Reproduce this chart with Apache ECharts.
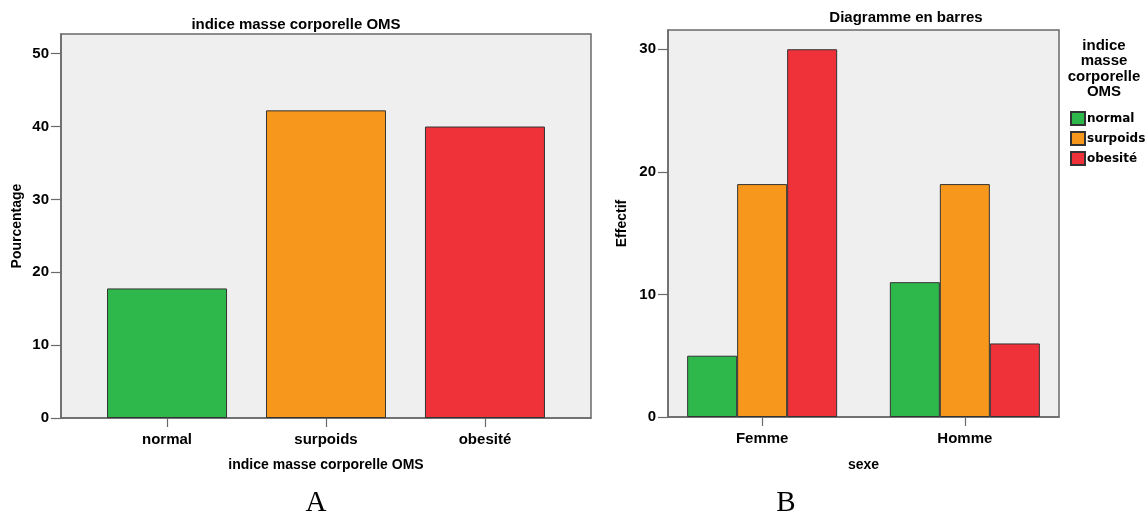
<!DOCTYPE html>
<html>
<head>
<meta charset="utf-8">
<script src="https://cdn.jsdelivr.net/npm/echarts@6/dist/echarts.min.js"></script>
<style>
html,body{margin:0;padding:0;background:#fff;}
#chart{width:1148px;height:516px;}
</style>
</head>
<body>
<div id="chart"></div>
<script>
// ---- data ----
const imcCategories = ['normal', 'surpoids', 'obesité'];
const imcPercent = [17.78, 42.22, 40.0];
const sexCategories = ['Femme', 'Homme'];
const countNormal = [5, 11];
const countSurpoids = [19, 19];
const countObesite = [30, 6];
const leftTicks = [0, 10, 20, 30, 40, 50];
const rightTicks = [0, 10, 20, 30];

const colors = ['#2eb84b', '#f7981d', '#ef323a'];
const FONT = 'Liberation Sans, Arial, sans-serif';
const axisColor = '#6a6a6a';

const chart = echarts.init(document.getElementById('chart'), null, {renderer: 'canvas'});

function yAxisCfg(gridIndex, max, ticks, name, nameGap) {
  return {
    type: 'value', gridIndex, min: 0, max,
    name, nameLocation: 'middle', nameGap,
    nameTextStyle: {fontFamily: FONT, fontWeight: 'bold', fontSize: 14, color: '#000'},
    axisLine: {show: true, onZero: false, lineStyle: {color: axisColor, width: 1.5}},
    axisTick: {show: true, length: 10, customValues: ticks, lineStyle: {color: axisColor, width: 1.2}},
    axisLabel: {customValues: ticks, margin: 12, fontFamily: FONT, fontWeight: 'bold', fontSize: 15, color: '#000'},
    splitLine: {show: false}
  };
}
function xAxisCfg(gridIndex, min, max, cats, name, nameGap) {
  const idx = cats.map((c, i) => i);
  return {
    type: 'value', gridIndex, min, max,
    name, nameLocation: 'middle', nameGap,
    nameTextStyle: {fontFamily: FONT, fontWeight: 'bold', fontSize: 14, color: '#000'},
    axisLine: {show: true, onZero: false, lineStyle: {color: axisColor, width: 1.5}},
    axisTick: {show: true, length: 9, customValues: idx, lineStyle: {color: axisColor, width: 1.2}},
    axisLabel: {customValues: idx, margin: 14, fontFamily: FONT, fontWeight: 'bold', fontSize: 15, color: '#000',
      formatter: v => cats[Math.round(v)]},
    splitLine: {show: false}
  };
}

const barBorder = {borderColor: '#333', borderWidth: 1};
const rightSeriesData = [countNormal, countSurpoids, countObesite];

const option = {
  animation: false,
  backgroundColor: '#fff',
  title: [
    {text: 'indice masse corporelle OMS', left: 296, top: 17, textAlign: 'center', padding: 0,
     textStyle: {fontFamily: FONT, fontWeight: 'bold', fontSize: 15, color: '#000'}},
    {text: 'Diagramme en barres', left: 906, top: 10, textAlign: 'center', padding: 0,
     textStyle: {fontFamily: FONT, fontWeight: 'bold', fontSize: 15, color: '#000'}}
  ],
  grid: [
    {left: 61, top: 34, width: 530, height: 384, show: true, backgroundColor: '#efefef', borderColor: axisColor, borderWidth: 1.5},
    {left: 668, top: 30, width: 391, height: 387, show: true, backgroundColor: '#efefef', borderColor: axisColor, borderWidth: 1.5}
  ],
  xAxis: [
    xAxisCfg(0, -0.667, 2.667, imcCategories, 'indice masse corporelle OMS', 40),
    xAxisCfg(1, -0.4645, 1.4645, sexCategories, 'sexe', 41)
  ],
  yAxis: [
    yAxisCfg(0, 52.7, leftTicks, 'Pourcentage', 37),
    yAxisCfg(1, 31.57, rightTicks, 'Effectif', 39)
  ],
  legend: {
    orient: 'vertical', left: 1065, top: 106,
    data: imcCategories,
    itemWidth: 14, itemHeight: 13, itemGap: 5,
    icon: 'rect',
    textStyle: {fontFamily: 'DejaVu Sans, sans-serif', fontWeight: 'bold', fontSize: 12, color: '#000', padding: [0, 0, 0, -3]},
    selectedMode: false
  },
  graphic: [
    {type: 'text', x: 1104, y: 38,
     style: {text: 'indice\nmasse\ncorporelle\nOMS', textAlign: 'center', textVerticalAlign: 'top',
       font: 'bold 15px ' + FONT, lineHeight: 15.5, fill: '#000'}},
    {type: 'text', x: 316, y: 503,
     style: {text: 'A', textAlign: 'center', textVerticalAlign: 'middle', font: '29px Liberation Serif, Times New Roman, serif', fill: '#000'}},
    {type: 'text', x: 786, y: 503,
     style: {text: 'B', textAlign: 'center', textVerticalAlign: 'middle', font: '29px Liberation Serif, Times New Roman, serif', fill: '#000'}}
  ],
  series: [
    {
      name: 'pourcentage', type: 'bar', xAxisIndex: 0, yAxisIndex: 0, barWidth: 120,
      itemStyle: barBorder,
      data: imcPercent.map((v, i) => ({value: [i, v], itemStyle: {color: colors[i]}}))
    }
  ].concat(imcCategories.map((name, k) => ({
    name, type: 'bar', xAxisIndex: 1, yAxisIndex: 1, barWidth: 50, barGap: '0%',
    itemStyle: Object.assign({color: colors[k]}, barBorder),
    data: rightSeriesData[k].map((v, i) => [i, v])
  })))
};
chart.setOption(option);
</script>
</body>
</html>
